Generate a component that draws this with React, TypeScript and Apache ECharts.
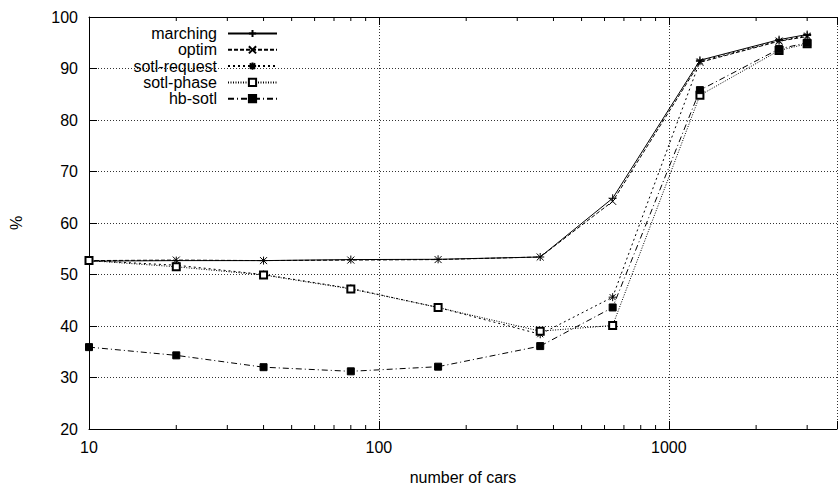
import React, { useEffect, useRef } from "react";
import * as echarts from "echarts";

const cars = [10, 20, 40, 80, 160, 360, 640, 1280, 2400, 3000];
const marching = [52.6, 52.7, 52.7, 52.9, 52.95, 53.4, 64.8, 91.6, 95.6, 96.6];
const optim = [52.7, 52.8, 52.7, 52.8, 52.9, 53.4, 64.2, 91.2, 95.3, 96.2];
const sotlRequest = [52.7, 51.8, 50.0, 47.3, 43.6, 38.4, 45.6, 91.4, 95.4, 96.4];
const sotlPhase = [52.7, 51.5, 49.9, 47.2, 43.6, 39.0, 40.1, 84.8, 93.5, 94.8];
const hbSotl = [35.9, 34.3, 32.0, 31.2, 32.1, 36.1, 43.6, 85.8, 93.8, 95.0];
const minorTicks = [20, 30, 40, 50, 60, 70, 80, 90, 200, 300, 400, 500, 600, 700, 800, 900, 2000, 3000];
const xLabels = [10, 100, 1000];

const FONT = "'Liberation Sans', Arial, Helvetica, sans-serif";

function pairs(vals: number[]) {
  return cars.map((c, i) => [c, vals[i]]);
}

export default function App() {
  const ref = useRef<HTMLDivElement>(null);
  useEffect(() => {
    document.body.style.margin = "0";
    const chart = echarts.init(ref.current!, null, { renderer: "svg" });
    const mk = (name: string, vals: number[], symbol: string, size: number, dash: any) => ({
      name,
      type: "line",
      data: pairs(vals),
      symbol,
      symbolSize: size,
      xAxisIndex: 0,
      yAxisIndex: 0,
      lineStyle: { color: "#000", width: 1, type: dash },
      itemStyle: { color: "#000", borderColor: "#000", borderWidth: 1 },
      emphasis: { disabled: true },
    });
    chart.setOption({
      animation: false,
      backgroundColor: "#fff",
      textStyle: { fontFamily: FONT },
      grid: { left: 86, right: -2, top: 17, bottom: 53, containLabel: false },
      legend: {
        orient: "vertical",
        right: 557,
        top: 20.5,
        align: "right",
        itemWidth: 49,
        itemHeight: 9,
        itemGap: 0.3,
        data: ["marching", "optim", "sotl-request", "sotl-phase", "hb-sotl"],
        formatter: (n: string) => `{t|${n}}`,
        textStyle: {
          fontSize: 16,
          color: "#000",
          fontFamily: FONT,
          rich: { t: { fontSize: 16, lineHeight: 17, color: "#000", fontFamily: FONT, padding: [0, 6, 0, 0] } },
        },
        selectedMode: false,
      },
      xAxis: [
        {
          type: "log",
          logBase: 10,
          min: 10,
          max: 3802,
          name: "number of cars",
          nameLocation: "middle",
          nameGap: 48,
          nameTextStyle: { fontSize: 16, color: "#000", fontFamily: FONT, verticalAlign: "middle" },
          axisLine: { show: true, lineStyle: { color: "#000", width: 1 } },
          axisTick: { show: true, inside: true, length: 8, lineStyle: { color: "#000" } },
          axisLabel: {
            fontSize: 16,
            color: "#000",
            margin: 10,
            fontFamily: FONT,
            formatter: (v: number) => (xLabels.some((l) => Math.abs(l - v) < 1e-6) ? String(Math.round(v)) : ""),
          },
          splitLine: { show: true, lineStyle: { color: "#333", type: [1, 2], width: 1 } },
        },
        {
          type: "log",
          logBase: 10,
          min: 10,
          max: 3802,
          position: "top",
          axisLine: { show: true, lineStyle: { color: "#000", width: 1 } },
          axisTick: { show: true, inside: true, length: 8, lineStyle: { color: "#000" } },
          axisLabel: { show: false },
          splitLine: { show: false },
        },
      ],
      yAxis: {
        type: "value",
        min: 20,
        max: 100,
        interval: 10,
        name: "%",
        nameLocation: "middle",
        nameRotate: 90,
        nameGap: 73,
        nameTextStyle: { fontSize: 16, color: "#000", fontFamily: FONT, verticalAlign: "middle" },
        axisLine: { show: true, lineStyle: { color: "#000", width: 1 } },
        axisTick: { show: true, inside: true, length: 8, lineStyle: { color: "#000" } },
        axisLabel: { fontSize: 16, color: "#000", margin: 11, fontFamily: FONT },
        splitLine: { show: true, lineStyle: { color: "#333", type: [1, 2], width: 1 } },
      },
      series: [
        {
          name: "minor-ticks",
          type: "custom",
          xAxisIndex: 0,
          yAxisIndex: 0,
          silent: true,
          clip: false,
          data: minorTicks.map((v) => [v, 20]),
          renderItem: (params: any, api: any) => {
            const v = api.value(0);
            const pb = api.coord([v, 20]);
            const pt = api.coord([v, 100]);
            const st = { stroke: "#000", lineWidth: 1 };
            return {
              type: "group",
              children: [
                { type: "line", shape: { x1: pb[0], y1: pb[1], x2: pb[0], y2: pb[1] - 4 }, style: st },
                { type: "line", shape: { x1: pt[0], y1: pt[1], x2: pt[0], y2: pt[1] + 4 }, style: st },
              ],
            };
          },
        },
        mk("marching", marching, "path://M0,4H8M4,0V8", 8, "solid"),
        mk("optim", optim, "path://M0,0L8,8M8,0L0,8", 7, [4, 2]),
        mk("sotl-request", sotlRequest, "path://M0,4H8M4,0V8M1,1L7,7M7,1L1,7", 8, [2, 3]),
        mk("sotl-phase", sotlPhase, "emptyRect", 7, [1, 1.5]),
        mk("hb-sotl", hbSotl, "rect", 7, [6, 3, 1, 3]),
      ],
    });
    return () => chart.dispose();
  }, []);
  return <div ref={ref} style={{ width: 840, height: 490 }} />;
}
